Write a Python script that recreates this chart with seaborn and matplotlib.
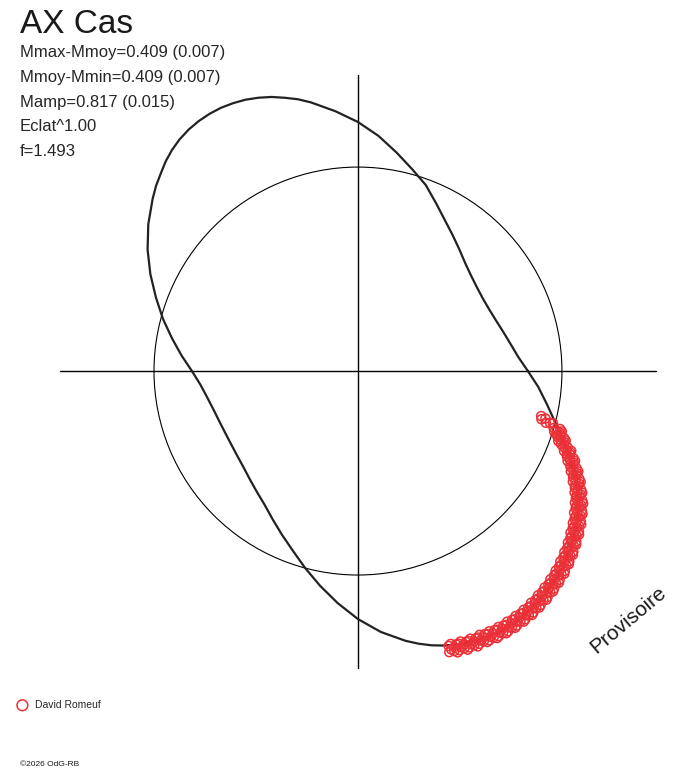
import numpy as np
import pandas as pd
import seaborn as sns
import matplotlib.pyplot as plt
from matplotlib.patches import Circle

# mean light curve, polar: angle in degrees, radius in units of the reference circle
curve_angle = [0, 5, 10, 15, 20, 25, 30, 35, 40, 45, 50, 55, 60, 65, 70, 75, 80, 85,
               90, 95, 100, 102.5, 105, 107.5, 110, 112.5, 115, 117.5, 120, 122.5, 125, 127.5,
               130, 132.5, 135, 137.5, 140, 145, 150, 155, 160, 165, 170, 175,
               180, 185, 190, 195, 200, 205, 210, 215, 220, 225, 230, 235, 240, 245, 250, 255, 260, 265,
               270, 275, 280, 282.5, 285, 287.5, 290, 292.5, 295, 297.5, 300, 302.5, 305, 307.5,
               310, 312.5, 315, 317.5, 320, 325, 330, 335, 340, 345, 350, 355]
curve_radius = [0.833, 0.789, 0.760, 0.738, 0.721, 0.711, 0.708, 0.713, 0.725, 0.745, 0.775, 0.811,
                0.853, 0.907, 0.971, 1.025, 1.088, 1.157, 1.221, 1.279, 1.338, 1.365, 1.387, 1.409,
                1.426, 1.440, 1.449, 1.455, 1.456, 1.453, 1.446, 1.434, 1.417, 1.395, 1.368, 1.343,
                1.314, 1.255, 1.191, 1.123, 1.054, 0.990, 0.926, 0.868,
                0.814, 0.775, 0.750, 0.733, 0.723, 0.718, 0.718, 0.723, 0.733, 0.750, 0.772, 0.799,
                0.838, 0.884, 0.936, 1.000, 1.069, 1.142, 1.216, 1.284, 1.343, 1.369, 1.392, 1.411,
                1.426, 1.437, 1.446, 1.451, 1.453, 1.451, 1.446, 1.437, 1.426, 1.413, 1.397, 1.379,
                1.358, 1.309, 1.250, 1.172, 1.083, 1.005, 0.941, 0.887]

# observations (David Romeuf)
obs_angle = [288.0, 288.25, 288.5, 288.75, 289.0, 289.25, 289.5, 289.75, 290.0, 290.25, 290.5, 290.75,
             291.0, 291.25, 291.5, 291.75, 292.0, 292.25, 292.5, 292.75, 293.0, 293.25, 293.5, 293.75,
             294.0, 294.25, 294.5, 294.75, 295.0, 295.25, 295.5, 295.75, 296.0, 296.25, 296.5, 296.75,
             297.0, 297.25, 297.5, 297.75, 298.0, 298.25, 298.5, 298.75, 299.0, 299.25, 299.5, 299.75,
             300.0, 300.25, 300.5, 300.75, 301.0, 301.25, 301.5, 301.75, 302.0, 302.25, 302.5, 302.75,
             303.0, 303.25, 303.5, 303.75, 304.0, 304.25, 304.5, 304.75, 305.0, 305.25, 305.5, 305.75,
             306.0, 306.25, 306.5, 306.75, 307.0, 307.25, 307.5, 307.75, 308.0, 308.25, 308.5, 308.75,
             309.0, 309.25, 309.5, 309.75, 310.0, 310.25, 310.5, 310.75, 311.0, 311.25, 311.5, 311.75,
             312.0, 312.25, 312.5, 312.75, 313.0, 313.25, 313.5, 313.75, 314.0, 314.25, 314.5, 314.75,
             315.0, 315.25, 315.5, 315.75, 316.0, 316.25, 316.5, 316.75, 317.0, 317.25, 317.5, 317.75,
             318.0, 318.25, 318.5, 318.75, 319.0, 319.25, 319.5, 319.75, 320.0, 320.25, 320.5, 320.75,
             321.0, 321.25, 321.5, 321.75, 322.0, 322.25, 322.5, 322.75, 323.0, 323.25, 323.5, 323.75,
             324.0, 324.25, 324.5, 324.75, 325.0, 325.25, 325.5, 325.75, 326.0, 326.25, 326.5, 326.75,
             327.0, 327.25, 327.5, 327.75, 328.0, 328.25, 328.5, 328.75, 329.0, 329.25, 329.5, 329.75,
             330.0, 330.25, 330.5, 330.75, 331.0, 331.25, 331.5, 331.75, 332.0, 332.25, 332.5, 332.75,
             333.0, 333.25, 333.5, 333.75, 334.0, 334.25, 334.5, 334.75, 335.0, 335.25, 335.5, 335.75,
             336.0, 336.25, 336.5, 336.75, 337.0, 337.25, 337.5, 337.75, 338.0, 338.25, 338.5, 338.75,
             339.0, 339.25, 339.5, 339.75, 340.0, 340.25, 340.5, 340.75, 341.0, 341.25, 341.5, 341.75,
             342.0, 342.25, 342.5, 342.75, 343.0, 343.25, 343.5, 343.75, 344.0,
             344.6, 345.3, 345.8, 344.9, 346.2, 345.0]
obs_radius = [1.449, 1.419, 1.439, 1.413, 1.451, 1.434, 1.463, 1.424, 1.456, 1.425, 1.445, 1.418,
              1.455, 1.438, 1.468, 1.429, 1.461, 1.430, 1.450, 1.423, 1.460, 1.443, 1.472, 1.432,
              1.464, 1.433, 1.451, 1.424, 1.460, 1.443, 1.472, 1.432, 1.469, 1.438, 1.456, 1.429,
              1.465, 1.447, 1.476, 1.436, 1.472, 1.440, 1.459, 1.431, 1.467, 1.449, 1.477, 1.437,
              1.473, 1.441, 1.459, 1.430, 1.466, 1.448, 1.476, 1.435, 1.471, 1.439, 1.456, 1.428,
              1.463, 1.445, 1.473, 1.432, 1.468, 1.436, 1.453, 1.425, 1.460, 1.441, 1.469, 1.428,
              1.463, 1.430, 1.447, 1.418, 1.453, 1.434, 1.461, 1.420, 1.455, 1.422, 1.439, 1.410,
              1.445, 1.426, 1.453, 1.411, 1.446, 1.413, 1.430, 1.401, 1.436, 1.417, 1.443, 1.402,
              1.436, 1.403, 1.419, 1.390, 1.424, 1.404, 1.431, 1.389, 1.423, 1.390, 1.406, 1.377,
              1.411, 1.391, 1.418, 1.376, 1.410, 1.376, 1.392, 1.362, 1.396, 1.376, 1.402, 1.360,
              1.394, 1.360, 1.376, 1.346, 1.380, 1.360, 1.386, 1.344, 1.378, 1.344, 1.359, 1.329,
              1.362, 1.342, 1.367, 1.325, 1.358, 1.324, 1.339, 1.309, 1.342, 1.322, 1.348, 1.305,
              1.339, 1.305, 1.320, 1.290, 1.323, 1.302, 1.328, 1.285, 1.318, 1.283, 1.298, 1.267,
              1.300, 1.279, 1.305, 1.262, 1.295, 1.260, 1.275, 1.244, 1.277, 1.256, 1.281, 1.237,
              1.270, 1.234, 1.249, 1.217, 1.249, 1.227, 1.251, 1.207, 1.239, 1.203, 1.217, 1.185,
              1.217, 1.195, 1.220, 1.176, 1.208, 1.172, 1.186, 1.154, 1.186, 1.164, 1.187, 1.143,
              1.174, 1.138, 1.151, 1.119, 1.150, 1.128, 1.152, 1.107, 1.139, 1.103, 1.116, 1.084,
              1.115, 1.093, 1.116, 1.072, 1.093, 1.057, 1.072, 1.040, 1.072, 1.050, 1.074, 1.030,
              1.062, 1.026, 1.040, 1.008, 1.040, 1.018, 1.042, 0.999, 1.031,
              0.955, 0.930, 0.948, 0.975, 0.925, 0.990]

star = "AX Cas"
info_lines = ["Mmax-Mmoy=0.409 (0.007)", "Mmoy-Mmin=0.409 (0.007)", "Mamp=0.817 (0.015)",
              "Eclat^1.00", "f=1.493"]
observer = "David Romeuf"

sns.set_style("white")
plt.rcParams['font.family'] = ['Liberation Sans', 'DejaVu Sans']


def to_xy(angle, radius):
    th = np.deg2rad(np.asarray(angle, dtype=float))
    r = np.asarray(radius, dtype=float)
    return pd.DataFrame({'x': r * np.cos(th), 'y': r * np.sin(th)})


dfCurve = to_xy(curve_angle + curve_angle[:1], curve_radius + curve_radius[:1])
dfObs = to_xy(obs_angle, obs_radius)

fig = plt.figure(figsize=(6.88, 7.68), dpi=100)
ax = fig.add_axes([0, 0, 1, 1])
ax.set_xlim(-1.755, 1.618)
ax.set_ylim(-1.946, 1.819)
ax.set_aspect('equal')
ax.axis('off')

# cross hair and reference circle (mean magnitude)
ax.plot([-1.46, 1.46], [0, 0], color='black', lw=1)
ax.plot([0, 0], [-1.456, 1.451], color='black', lw=1)
ax.add_patch(Circle((0, 0), 1.0, fill=False, ec='black', lw=0.8))

sns.lineplot(data=dfCurve, x='x', y='y', sort=False, estimator=None,
             color='#222222', lw=1.6, ax=ax, zorder=3, solid_joinstyle='round')
sns.scatterplot(data=dfObs, x='x', y='y', marker='o', s=42, facecolor='none',
                edgecolor='#ec3038', linewidth=1.1, ax=ax, zorder=4, label=observer)
ax.set_xlabel('')
ax.set_ylabel('')

ax.legend(loc='center left', bbox_to_anchor=(13 / 688, 1 - 705 / 768), frameon=False,
          fontsize=7.5, handletextpad=0.7, borderaxespad=0, handlelength=1.0,
          markerscale=1.2)

fig.text(20 / 688, 1 - 33 / 768, star, fontsize=24, color='#1a1a1a', va='baseline')
for i, line in enumerate(info_lines):
    fig.text(20 / 688, 1 - (57 + 24.75 * i) / 768, line, fontsize=12, color='#262626', va='baseline')

fig.text(628 / 688, 1 - 620 / 768, "Provisoire", fontsize=15, rotation=40, color='#1a1a1a',
         ha='center', va='center', rotation_mode='anchor')
fig.text(20 / 688, 1 - 766 / 768, "\u00a92026 OdG-RB", fontsize=6, color='#1a1a1a', va='baseline')

plt.savefig('out.png', dpi=100)
